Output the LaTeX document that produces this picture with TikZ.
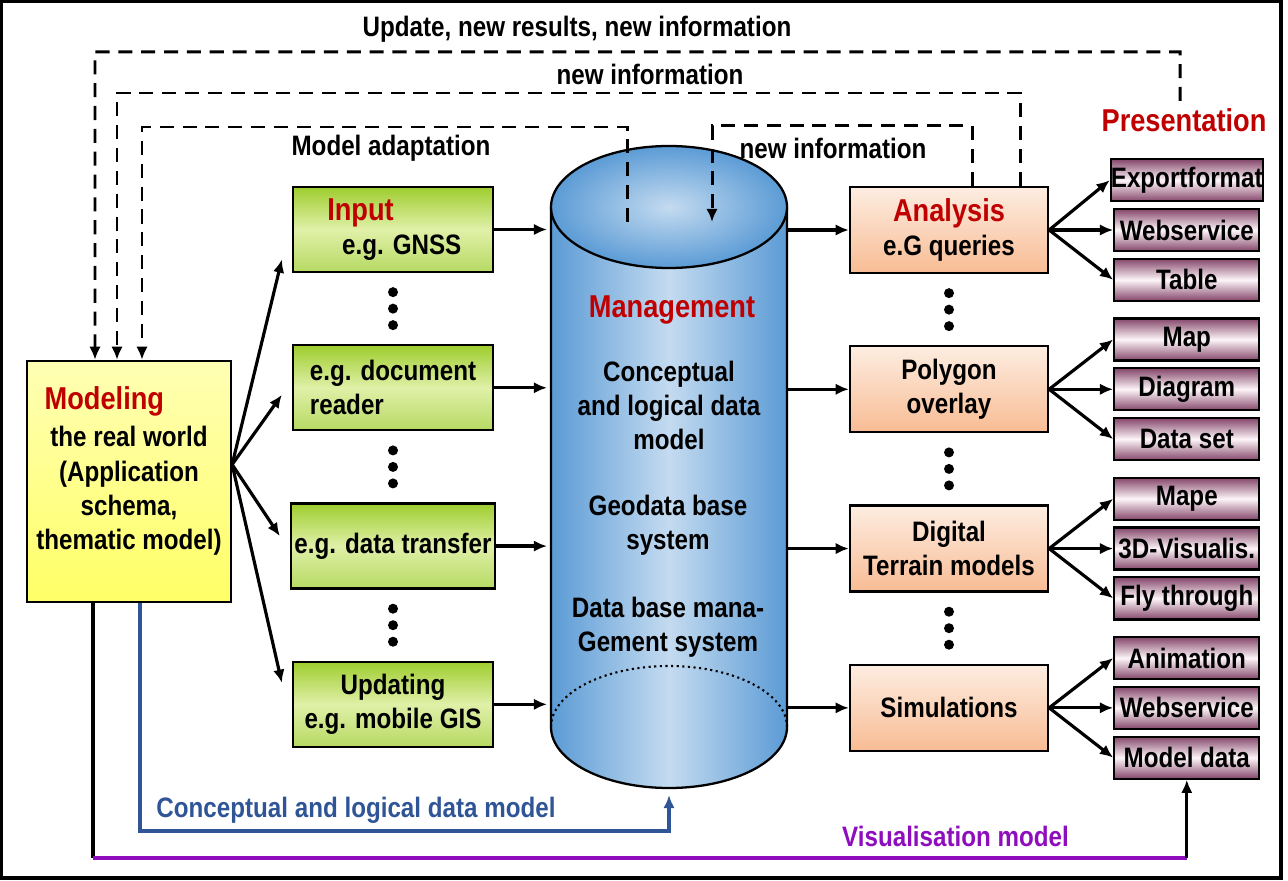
\documentclass[tikz,border=0pt]{standalone}
\usepackage{fontspec}
\setmainfont[FakeStretch=0.86]{Liberation Sans}
\usetikzlibrary{arrows.meta}
\usetikzlibrary{positioning}
\usetikzlibrary{calc}
\definecolor{headred}{HTML}{C00000}
\definecolor{ingreen}{HTML}{9ECD2E}
\definecolor{inlight}{HTML}{E0F0A8}
\definecolor{peachlight}{HTML}{FDEDE1}
\definecolor{peach}{HTML}{F8BC94}
\definecolor{yellowlight}{HTML}{FFFFB4}
\definecolor{yellowdark}{HTML}{FFFF66}
\definecolor{mauve}{HTML}{84466A}
\definecolor{mauvelight}{HTML}{FDF5F8}
\definecolor{cylblue}{HTML}{5B9BD5}
\definecolor{cyllight}{HTML}{C4DBF0}
\definecolor{conceptblue}{HTML}{2F5597}
\definecolor{vispurple}{HTML}{8E0DBD}
\newcommand{\headfont}{\fontsize{18}{21}\selectfont}
\tikzset{modelbox/.style={draw, line width=1.3pt, minimum width=4.08cm, minimum height=4.82cm, top color=yellowlight, bottom color=yellowdark, align=center}}
\tikzset{inbox/.style={draw, line width=1.3pt, minimum width=4cm, minimum height=1.7cm, inner xsep=2pt, top color=ingreen, bottom color=ingreen!75!white, middle color=inlight, align=center}}
\tikzset{anbox/.style={draw, line width=1.3pt, minimum width=3.96cm, minimum height=1.72cm, inner xsep=2pt, top color=peachlight, bottom color=peach, align=center}}
\tikzset{prbox/.style={draw, line width=1.3pt, minimum width=2.9cm, minimum height=0.84cm, inner sep=0pt, top color=mauve, bottom color=mauve, middle color=mauvelight}}
\tikzset{fb/.style={->, dash pattern=on 8pt off 5pt, line width=1.7pt}}
\tikzset{conn/.style={line width=1.8pt}}

\begin{document}
\begin{tikzpicture}[>={Latex[length=7.5pt,width=6.5pt]}, line width=1.8pt,
    every node/.style={font=\bfseries\fontsize{16}{19.5}\selectfont}]
    \useasboundingbox (0,0) rectangle (25.76,-17.62);
    \draw[line width=1.8pt] (0.03,-0.03) rectangle (25.62,-17.56);

    % modeling and input
    \node[modelbox] (model) at (2.58,-9.63) {\textcolor{headred}{\headfont Modeling}\hspace*{28pt}\\[2pt]the real world\\(Application\\schema,\\thematic model)\\[-4pt]\mbox{}};
    \node[inbox] (in1) at (7.86,-4.59) {\textcolor{headred}{\headfont Input}\hspace*{37pt}\\\hspace*{10pt}e.g. GNSS};
    \node[inbox, below = 1.42cm of in1, align=left] (in2) {e.g. document\\reader};
    \node[inbox, below = 1.42cm of in2] (in3) {e.g. data transfer};
    \node[inbox, below = 1.42cm of in3] (in4) {Updating\\e.g. mobile GIS};

    % data base cylinder
    \coordinate (dbtop) at (13.38,-4.14);
    \coordinate (dbbot) at (13.38,-14.54);
    \coordinate (dbw) at (10.94,-9);
    \coordinate (dbe) at (15.74,-9);
    \coordinate (dbout) at (12.54,-4.44);
    \coordinate (dbin) at (14.24,-4.44);
    \shade[left color=cylblue, right color=cylblue, middle color=cyllight] ($(dbtop)+(-2.36,0)$) -- ($(dbbot)+(-2.36,0)$) arc[start angle=180, end angle=360, x radius=2.36cm, y radius=1.22cm] -- ($(dbtop)+(2.36,0)$) -- cycle;
    \draw[line width=1.3pt] ($(dbtop)+(-2.36,0)$) -- ($(dbbot)+(-2.36,0)$) arc[start angle=180, end angle=360, x radius=2.36cm, y radius=1.22cm] -- ($(dbtop)+(2.36,0)$);
    \draw[dotted, line width=1.2pt] ($(dbbot)+(-2.36,0)$) arc[start angle=180, end angle=0, x radius=2.36cm, y radius=1.22cm];
    \shadedraw[inner color=cyllight, outer color=cylblue, line width=1.3pt] (dbtop) ellipse[x radius=2.36cm, y radius=1.22cm];
    \node (mgtitle) at (13.44,-6.2) {\textcolor{headred}{\headfont Management}};
    \node[align=center] (dm1) at (13.38,-8.11) {Conceptual\\and logical data\\model};
    \node[align=center] (dm2) at (13.36,-10.51) {Geodata base\\system};
    \node[align=center] (dm3) at (13.36,-12.55) {Data base mana-\\Gement system};

    % analysis
    \node[anbox] (an1) at (18.98,-4.6) {\textcolor{headred}{\headfont Analysis}\\e.G queries};
    \node[anbox, below = 1.42cm of an1] (an2) {Polygon\\overlay};
    \node[anbox, below = 1.42cm of an2] (an3) {Digital\\Terrain models};
    \node[anbox, below = 1.42cm of an3] (an4) {Simulations};

    % presentation
    \node (pres) at (23.68,-2.4) {\textcolor{headred}{\headfont Presentation}};
    \node[prbox, right = 1.28cm of an1] (web1) {Webservice};
    \node[prbox, above = 0.11cm of web1] (exp) {Exportformat};
    \node[prbox, below = 0.11cm of web1] (tab) {Table};
    \node[prbox, right = 1.28cm of an2] (diag) {Diagram};
    \node[prbox, above = 0.11cm of diag] (map) {Map};
    \node[prbox, below = 0.11cm of diag] (dset) {Data set};
    \node[prbox, right = 1.28cm of an3] (vis3d) {3D-Visualis.};
    \node[prbox, above = 0.11cm of vis3d] (mape) {Mape};
    \node[prbox, below = 0.11cm of vis3d] (fly) {Fly through};
    \node[prbox, right = 1.28cm of an4] (web2) {Webservice};
    \node[prbox, above = 0.11cm of web2] (anim) {Animation};
    \node[prbox, below = 0.11cm of web2] (mdata) {Model data};

    % dots
    \foreach \a/\b in {in1/in2, in2/in3, in3/in4, an1/an2, an2/an3, an3/an4} {
        \coordinate (mid) at ($(\a.south)!0.5!(\b.north)$);
        \fill (mid) circle (0.1) ($(mid)+(0,0.33)$) circle (0.1) ($(mid)+(0,-0.33)$) circle (0.1);
    }

    % fan from modeling
    \coordinate (fan) at ([yshift=0.34cm]model.east);
    \draw[conn, ->] (fan) -- ([xshift=-0.2cm, yshift=-0.6cm]in1.west);
    \draw[conn, ->] (fan) -- ([xshift=-0.2cm, yshift=-0.14cm]in2.west);
    \draw[conn, ->] (fan) -- ([xshift=-0.2cm, yshift=0.2cm]in3.west);
    \draw[conn, ->] (fan) -- ([xshift=-0.2cm, yshift=0.43cm]in4.west);

    % into and out of the data base
    \draw[conn, ->] (in1) -- (in1 -| dbw);
    \draw[conn, ->] (in2) -- (in2 -| dbw);
    \draw[conn, ->] (in3) -- (in3 -| dbw);
    \draw[conn, ->] (in4) -- (in4 -| dbw);
    \draw[conn, ->] (an1 -| dbe) -- (an1);
    \draw[conn, ->] (an2 -| dbe) -- (an2);
    \draw[conn, ->] (an3 -| dbe) -- (an3);
    \draw[conn, ->] (an4 -| dbe) -- (an4);

    % to presentation
    \draw[conn, ->] (an1.east) -- (exp.west);
    \draw[conn, ->] (an1.east) -- (web1.west);
    \draw[conn, ->] (an1.east) -- (tab.west);
    \draw[conn, ->] (an2.east) -- (map.west);
    \draw[conn, ->] (an2.east) -- (diag.west);
    \draw[conn, ->] (an2.east) -- (dset.west);
    \draw[conn, ->] (an3.east) -- (mape.west);
    \draw[conn, ->] (an3.east) -- (vis3d.west);
    \draw[conn, ->] (an3.east) -- (fly.west);
    \draw[conn, ->] (an4.east) -- (anim.west);
    \draw[conn, ->] (an4.east) -- (web2.west);
    \draw[conn, ->] (an4.east) -- (mdata.west);

    % feedback loops
    \draw[fb] ([xshift=-0.08cm]pres.north) |- (1.9,-1.04) -- ([xshift=-0.68cm]model.north);
    \draw[fb] ([xshift=1.42cm]an1.north) |- (2.34,-1.86) -- ([xshift=-0.24cm]model.north);
    \draw[fb] (dbout) |- (2.84,-2.54) -- ([xshift=0.26cm]model.north);
    \draw[fb] ([xshift=0.46cm]an1.north) -- ++(0,1.2) -| (dbin);
    \node (upd) at (11.54,-0.58) {Update, new results, new information};
    \node (newinfo1) at (13.0,-1.48) {new information};
    \node (adapt) at (7.82,-2.96) {Model adaptation};
    \node (newinfo2) at (16.66,-2.96) {new information};

    % models at the bottom
    \coordinate (cm) at (2.8,-16.62);
    \coordinate (vis) at (1.86,-17.16);
    \draw[conn, conceptblue, ->] (model.south -| cm) -- (cm) -| ([yshift=-0.14cm]dbbot |- 0,-15.76);
    \draw[conn] (model.south -| vis) -- (vis);
    \draw[conn, vispurple] (vis) -- (vis -| mdata);
    \draw[conn, ->] (vis -| mdata) -- (mdata.south);
    \node[text=conceptblue] (cmlabel) at (7.12,-16.2) {Conceptual and logical data model};
    \node[text=vispurple] (vislabel) at (19.11,-16.72) {Visualisation model};
\end{tikzpicture}
\end{document}
